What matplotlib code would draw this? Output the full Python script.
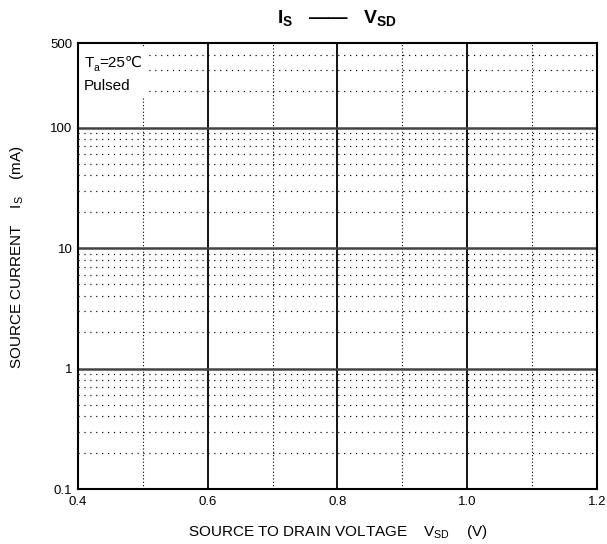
import numpy as np
import matplotlib
matplotlib.use('Agg')
import matplotlib.pyplot as plt
from matplotlib.patches import Rectangle

plt.rcParams['font.family'] = ['Liberation Sans', 'DejaVu Sans']
plt.rcParams['mathtext.fontset'] = 'custom'
plt.rcParams['mathtext.rm'] = 'Liberation Sans'
plt.rcParams['mathtext.it'] = 'Liberation Sans'
plt.rcParams['mathtext.bf'] = 'Liberation Sans:bold'

# axis setup
x_major = [0.4, 0.6, 0.8, 1.0, 1.2]
x_labels = ['0.4', '0.6', '0.8', '1.0', '1.2']
x_minor = [0.5, 0.7, 0.9, 1.1]
y_ticks = [0.1, 1, 10, 100, 500]
y_labels = ['0.1', '1', '10', '100', '500']
y_major_grid = [1, 10, 100]
y_minor = [m * d for d in [0.1, 1, 10] for m in range(2, 10)] + [200, 300, 400]

fig = plt.figure(figsize=(6.07, 5.44), dpi=100)
ax = fig.add_axes([0.1285, 0.1011, 0.855, 0.8193])
ax.set_yscale('log')
ax.set_xlim(0.4, 1.2)
ax.set_ylim(0.1, 500)

ax.set_xticks(x_major)
ax.set_xticklabels(x_labels)
ax.set_xticks(x_minor, minor=True)
ax.set_yticks(y_ticks)
ax.set_yticklabels(y_labels)
ax.set_yticks(y_minor, minor=True)
ax.tick_params(which='both', length=0, labelsize=9.5, pad=4)
ax.tick_params(axis='x', pad=5)

# grid
for x in x_major[1:-1]:
    ax.axvline(x, color='black', lw=1.3, zorder=1)
for x in x_minor:
    ax.axvline(x, color='black', lw=0.8, ls=(0, (1, 2)), zorder=1)
for y in y_major_grid:
    ax.axhline(y, color='#444444', lw=1.8, zorder=1)
for y in y_minor:
    ax.axhline(y, color='black', lw=0.85, ls=(0, (1, 4)), zorder=1)

for s in ax.spines.values():
    s.set_linewidth(1.5)
    s.set_zorder(3)

# white box behind the conditions note
ax.add_patch(Rectangle((0.4, 179), 0.109, 466 - 179, facecolor='white',
                       edgecolor='none', zorder=2))
t1 = ax.text(0.012, 0.941, 'T', transform=ax.transAxes,
             fontsize=11, va='bottom', ha='left', zorder=4)
t2 = ax.annotate('a', xy=(1, 0.1), xycoords=t1, fontsize=7.5,
                 va='center', ha='left', zorder=4)
t3 = ax.annotate('=25℃', xy=(1, 0), xycoords=(t2, t1), fontsize=11,
                 va='bottom', ha='left', zorder=4)
ax.text(0.012, 0.905, 'Pulsed', transform=ax.transAxes,
        fontsize=11, va='center', ha='left', zorder=4)

fig.text(0.556, 0.966, r'$\mathbf{I_S}$   ——   $\mathbf{V_{SD}}$',
         fontsize=14, fontweight='bold', ha='center', va='center')

ax.set_xlabel(r'SOURCE TO DRAIN VOLTAGE    $\mathrm{V_{SD}}$    (V)',
              fontsize=11, labelpad=11)
ax.set_ylabel(r'SOURCE CURRENT    $\mathrm{I_S}$    (mA)', fontsize=11)
ax.yaxis.set_label_coords(-0.1, 0.52)

fig.savefig('out.png', dpi=100)
